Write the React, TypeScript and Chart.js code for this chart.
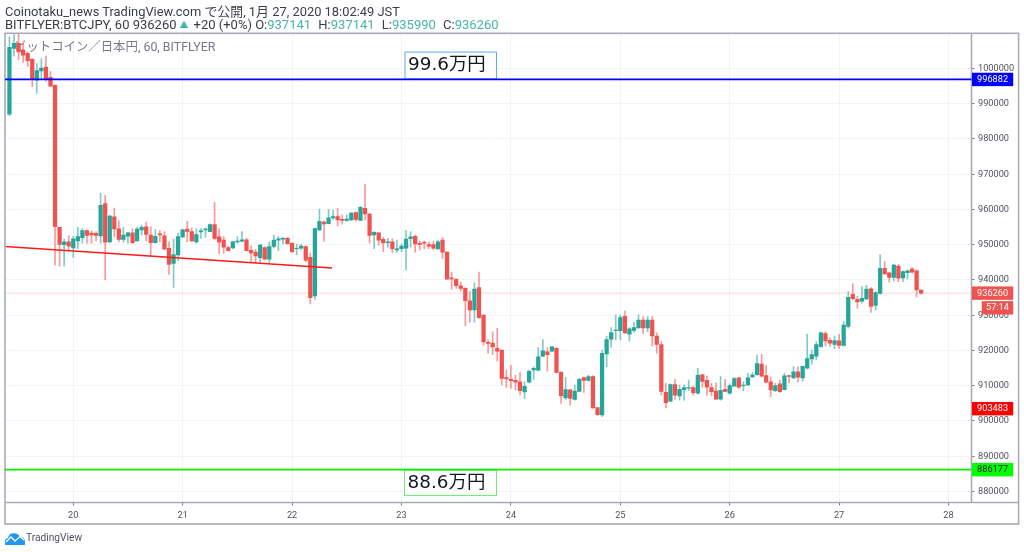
import React, { useEffect, useRef } from "react";
import { Chart, registerables } from "chart.js";

Chart.register(...registerables);

const opens = [
987000,1005700,1007100,1005200,1004300,1002600,996700,999300,1000400,997500,
995200,954900,950000,950800,949100,951100,952000,954000,953300,953200,
952500,961700,950800,957900,954500,951500,952400,953400,951100,954200,
955100,952700,950600,953100,952500,949000,944700,947100,952200,954400,
953700,950800,953600,954200,953700,955700,952200,951300,949200,949100,
950800,951000,951400,948400,947900,946300,949200,945900,949500,951300,
951600,951800,950400,948900,949000,949500,946400,935500,954200,956400,
956000,957600,958000,957200,956900,957000,959100,956900,960300,958700,
952800,953400,951500,950600,950800,948500,948900,949000,951700,952400,
950400,950700,950000,950000,948800,951300,947900,940600,940200,938300,
937600,934100,931500,937800,930000,922300,922100,920600,920100,912300,
911800,911500,911100,908200,911000,914500,914400,918400,919600,919800,
920600,913800,906500,908800,906100,908400,912300,911500,912600,903800,
901700,919000,923200,925600,925600,929700,924600,925700,926400,928600,
926400,928600,924100,921700,908100,905600,910300,907100,908900,909300,
909500,907900,913100,911500,909500,908500,906200,909000,907900,909900,
912200,910000,910200,912500,913100,916100,912900,911100,908600,910500,
908900,912900,912200,913900,912200,915000,917600,918400,921100,924800,
922900,921700,922700,921400,926800,935900,934500,934000,934600,937500,
932800,936200,943300,942000,940700,943900,940600,942100,943100,942600,
937141];

const highs = [
1009000,1009600,1009800,1007100,1004700,1002800,1001400,1002800,1003500,999200,
995300,954900,951600,952500,952400,954900,954600,954200,953900,953700,
964600,964000,958400,960400,956800,954900,953500,954600,954900,955600,
956400,955100,954300,954000,953700,950800,951500,953200,954400,956600,
954800,954600,954600,954800,955900,962000,954600,952300,949600,951000,
952300,953700,951800,949700,948700,950100,949400,950800,952700,952400,
952100,952100,950600,950200,950100,949700,947700,954800,960100,956800,
960000,959800,960300,958500,958400,959100,959300,960800,967200,958900,
953700,953500,952100,951800,951700,951300,950200,954000,953700,952700,
951000,951000,950800,951000,951300,952100,948000,942200,940400,939500,
937800,936700,939200,942200,930100,923000,925300,926300,920100,914400,
915800,913000,913700,911100,914400,915400,920800,923100,920800,921200,
920800,914000,912400,908900,910200,912100,912500,913000,912900,903800,
920100,924100,926500,930000,930000,931200,926500,928000,930100,929600,
929600,929600,925000,922500,910700,910500,911800,910200,910200,911600,
909900,914900,913200,912700,910700,910800,912600,911800,910500,912400,
912400,911100,913500,913700,918700,918900,915700,912500,910700,911600,
913500,913000,915400,915400,915600,924600,920100,922500,925200,925300,
923600,924100,924600,928200,936700,939000,935400,938100,938500,937800,
936700,947100,945200,942100,944500,944400,942600,942800,943600,942800,
937141];

const lows = [
986600,1003500,1002400,1001700,1000500,994800,992900,997200,996400,995000,
944200,944000,943900,948300,946400,948900,950400,950400,950400,951100,
950400,940000,950600,952300,950800,950700,950400,950400,951000,952700,
951100,946800,950400,950800,948700,941600,937900,945500,952100,950800,
951000,950400,951800,952100,953700,951500,947400,947500,948200,948900,
950400,950800,948200,944900,944900,944900,945600,944900,949100,948300,
950200,950100,947800,947100,948500,945200,933200,934500,954000,951000,
955900,957200,955300,955800,956600,956800,956600,956800,957000,950400,
948900,949900,948000,949200,947800,947800,948000,942800,949400,947900,
948500,948900,948900,948500,948700,946100,940200,937400,937600,936900,
927000,928000,928000,929100,921500,919200,918900,917000,910200,909500,
909200,908800,907400,906300,910800,911800,914200,918200,914100,919600,
913700,905000,906100,904500,905900,908200,908100,911300,903600,901600,
901200,915400,920900,923000,923000,924800,922600,925200,926300,924800,
925300,921300,919200,907300,903700,905500,906100,905900,905900,908600,
907300,907600,909500,907300,907100,906100,905900,908200,907600,909900,
909200,908500,910000,912400,912900,912500,910800,906900,908300,908100,
908800,910800,912100,911100,911300,914800,916100,917300,920900,921200,
921100,920500,920600,921200,926300,934300,932000,933400,934400,930800,
931500,936000,941600,939400,939700,939500,939500,940300,941900,935200,
935990];

const closes = [
1006000,1007100,1004700,1003800,1002200,996900,999400,1000100,996900,995000,
955100,950100,950800,949600,951700,952300,954000,952600,952800,952600,
961200,950700,958100,954500,951500,952700,953400,950600,954400,954900,
952900,950600,952400,952800,948700,944400,947200,952300,954200,953800,
951100,952900,953900,954400,955700,951800,950700,949300,948300,950800,
951000,951400,948300,947700,946800,949900,945900,949500,951300,951700,
951800,950300,948000,949000,949600,945600,935000,954600,956600,955900,
957600,958000,957000,956900,957300,959000,957200,960600,958700,952600,
953500,951300,950500,950800,948900,948800,949600,951600,952200,950200,
950100,950400,949600,949000,950800,947900,940200,940300,938400,937600,
934100,931500,937400,929300,922400,922000,921000,919800,912100,911900,
911400,911000,908600,909800,914100,914900,918200,919900,918800,921000,
913800,907100,908900,906400,908500,911800,911500,912600,903700,901800,
919200,923100,925100,925800,929300,925000,926100,926500,928600,926400,
928600,924100,921700,908400,905200,910300,907300,909000,909500,909500,
908000,913000,911200,909600,908300,906200,908700,908400,910000,912000,
909600,910200,912200,913000,916300,912700,911000,908800,910000,908300,
912800,912600,913900,912400,915500,917700,918800,921700,925000,922700,
922100,922800,921400,927200,935100,934700,933800,934800,937400,932500,
936400,943300,941700,940700,944200,940500,942400,942600,942200,937200,
936260];

const firstBarDay = 19.4167;
const hoursPerDay = 24;
const xDomain = [19.376, 28.21];
const yDomain = [876865, 1009915];
const xTicks = [20, 21, 22, 23, 24, 25, 26, 27, 28];
const yTicks = [880000, 890000, 900000, 910000, 920000, 930000, 940000, 950000, 960000, 970000, 980000, 990000, 1000000];

const resistanceLevel = 996882;
const supportLevel = 886177;
const lastPrice = 936260;
const lowTagPrice = 903483;
const countdown = "57:14";
const trendDays = [19.376, 22.365];
const trendPrices = [949474, 943374];

const headerLine1 = "Coinotaku_news TradingView.com で公開, 1月 27, 2020 18:02:49 JST";
const paneTitle = "ビットコイン／日本円, 60, BITFLYER";
const resistanceNote = "99.6万円";
const supportNote = "88.6万円";

const UP = "#26a69a";
const DOWN = "#ef5350";
const UP_WICK = "rgba(38,166,154,0.58)";
const DOWN_WICK = "rgba(239,83,80,0.58)";
const FRAME = "#a9acb5";
const GRID = "#f0f3f9";
const TICK_TEXT = "#50535e";
const FONT = 'Roboto, "Liberation Sans", sans-serif';
const MIXED = 'Roboto, "Noto Sans CJK JP", sans-serif';
const NOTE_FONT = '"DejaVu Sans", "Noto Sans CJK JP", sans-serif';

const dayOf = (i: number) => firstBarDay + i / hoursPerDay;

const overlays = {
  id: "overlays",
  beforeDatasetsDraw(chart: any) {
    const { ctx, chartArea: a } = chart;
    ctx.save();
    ctx.fillStyle = "#787b86";
    ctx.font = `12.4px ${MIXED}`;
    ctx.textAlign = "left";
    ctx.textBaseline = "middle";
    ctx.fillText(paneTitle, a.left + 9, 47.5);
    ctx.restore();
  },
  afterDraw(chart: any) {
    const { ctx, chartArea: a, scales } = chart;
    const xs = scales.x;
    const ys = scales.y;
    ctx.save();

    // frame
    ctx.strokeStyle = FRAME;
    ctx.lineWidth = 1.6;
    ctx.strokeRect(5, 33.3, 1013.6, 490.7);
    ctx.beginPath();
    ctx.moveTo(a.right, 33.3);
    ctx.lineTo(a.right, a.bottom);
    ctx.moveTo(5, a.bottom);
    ctx.lineTo(1018.6, a.bottom);
    ctx.stroke();

    // note boxes
    const note = (text: string, d0: number, d1: number, p0: number, p1: number, border: string) => {
      const x0 = xs.getPixelForValue(d0);
      const x1 = xs.getPixelForValue(d1);
      const y0 = ys.getPixelForValue(p0);
      const y1 = ys.getPixelForValue(p1);
      ctx.fillStyle = "rgba(255,255,255,0.9)";
      ctx.fillRect(x0, y0, x1 - x0, y1 - y0);
      ctx.strokeStyle = border;
      ctx.lineWidth = 1;
      ctx.strokeRect(x0, y0, x1 - x0, y1 - y0);
      ctx.fillStyle = "#131722";
      ctx.font = `18.4px ${NOTE_FONT}`;
      ctx.textAlign = "left";
      ctx.textBaseline = "middle";
      ctx.fillText(text, x0 + 3, (y0 + y1) / 2);
    };
    note(resistanceNote, 23.032, 23.868, 1004653, 996993, "#5aa9f0");
    note(supportNote, 23.028, 23.868, 886066, 878832, "#6fe86f");

    // the two levels go over the boxes' edges
    ctx.lineWidth = 1.8;
    ctx.strokeStyle = "#0000ff";
    ctx.beginPath();
    ctx.moveTo(a.left, ys.getPixelForValue(resistanceLevel));
    ctx.lineTo(a.right, ys.getPixelForValue(resistanceLevel));
    ctx.stroke();
    ctx.strokeStyle = "#00f000";
    ctx.beginPath();
    ctx.moveTo(a.left, ys.getPixelForValue(supportLevel));
    ctx.lineTo(a.right, ys.getPixelForValue(supportLevel));
    ctx.stroke();

    // price tags
    const tag = (text: string, cy: number, bg: string, fg: string, left = a.right + 0.5) => {
      ctx.fillStyle = bg;
      ctx.fillRect(left, cy - 6.7, 1013.2 - left, 13.4);
      ctx.fillStyle = fg;
      ctx.font = `9.2px ${FONT}`;
      ctx.textAlign = "center";
      ctx.textBaseline = "middle";
      ctx.fillText(text, (left + 1013.2) / 2, cy + 0.3);
    };
    tag(String(resistanceLevel), ys.getPixelForValue(resistanceLevel), "#0000ff", "#ffffff");
    tag(String(supportLevel), ys.getPixelForValue(supportLevel), "#00ff00", "#131722");
    tag(String(lowTagPrice), ys.getPixelForValue(lowTagPrice), "#ff0000", "#ffffff");
    tag(String(lastPrice), ys.getPixelForValue(lastPrice), DOWN, "#ffffff");
    tag(countdown, ys.getPixelForValue(lastPrice) + 14.7, DOWN, "#ffffff", a.right + 10.3);
    ctx.restore();
  },
};

export default function App() {
  const ref = useRef<HTMLCanvasElement>(null);

  useEffect(() => {
    document.body.style.margin = "0";
    document.body.style.background = "#ffffff";
    const n = opens.length;
    const idx = Array.from({ length: n }, (_, i) => i);
    const isUp = (i: number) => closes[i] >= opens[i];
    const chart = new Chart(ref.current as HTMLCanvasElement, {
      type: "bar",
      data: {
        datasets: [
          {
            type: "line",
            label: "last",
            data: [
              { x: xDomain[0], y: lastPrice },
              { x: xDomain[1], y: lastPrice },
            ],
            borderColor: "rgba(239,83,80,0.22)",
            borderWidth: 1,
            pointRadius: 0,
            order: 4,
          },
          {
            type: "bar",
            label: "wicks",
            data: idx.map((i) => ({ x: dayOf(i), y: [lows[i], highs[i]] })),
            backgroundColor: idx.map((i) => (isUp(i) ? UP_WICK : DOWN_WICK)),
            barThickness: 1,
            grouped: false,
            order: 3,
          },
          {
            type: "bar",
            label: "bodies",
            data: idx.map((i) => ({ x: dayOf(i), y: [opens[i], closes[i]] })),
            backgroundColor: idx.map((i) => (isUp(i) ? UP : DOWN)),
            barThickness: 3.6,
            grouped: false,
            order: 2,
          },
          {
            type: "line",
            label: "trend",
            data: trendDays.map((d, i) => ({ x: d, y: trendPrices[i] })),
            borderColor: "#ff1a1a",
            borderWidth: 1.4,
            pointRadius: 0,
            order: 1,
          },
        ],
      } as any,
      options: {
        responsive: false,
        animation: false,
        events: [],
        layout: { padding: { left: 5, top: 33.5, right: 5.5, bottom: 28 } },
        plugins: { legend: { display: false }, title: { display: false }, tooltip: { enabled: false } },
        scales: {
          x: {
            type: "linear",
            min: xDomain[0],
            max: xDomain[1],
            offset: false,
            afterBuildTicks: (s: any) => {
              s.ticks = xTicks.map((value) => ({ value }));
            },
            afterFit: (s: any) => {
              s.height = 21.5;
            },
            grid: { offset: false, color: GRID, lineWidth: 1, tickColor: "#787b86", tickLength: 3 },
            border: { display: false },
            ticks: {
              color: TICK_TEXT,
              font: { family: FONT, size: 9.2 },
              padding: 4.5,
              maxRotation: 0,
              autoSkip: false,
              callback: (v: any) => String(v),
            },
          },
          y: {
            type: "linear",
            position: "right",
            min: yDomain[0],
            max: yDomain[1],
            afterBuildTicks: (s: any) => {
              s.ticks = yTicks.map((value) => ({ value }));
            },
            afterFit: (s: any) => {
              s.width = 47;
            },
            grid: { color: GRID, lineWidth: 1, tickColor: "#787b86", tickLength: 3 },
            border: { display: false },
            ticks: {
              color: TICK_TEXT,
              font: { family: FONT, size: 9.2 },
              padding: 3.5,
              autoSkip: false,
              callback: (v: any) => String(v),
            },
          },
        },
      } as any,
      plugins: [overlays],
    });
    return () => chart.destroy();
  }, []);

  const line: React.CSSProperties = {
    position: "absolute",
    left: 5,
    whiteSpace: "nowrap",
    fontFamily: MIXED,
    fontSize: 13,
    lineHeight: "13px",
    color: "#3a3d47",
  };
  const teal: React.CSSProperties = { color: "#45b5aa" };
  const gap: React.CSSProperties = { marginLeft: 4 };

  return (
    <div style={{ position: "relative", width: 1024, height: 552, overflow: "hidden", background: "#fff" }}>
      <canvas ref={ref} width={1024} height={552} style={{ display: "block", position: "absolute", left: 0, top: 0 }} />
      <div style={{ ...line, top: 5, fontSize: 12.9 }}>{headerLine1}</div>
      <div style={{ ...line, top: 18 }}>
        BITFLYER:BTCJPY, 60 936260
        <span style={{ ...teal, fontSize: 9, margin: "0 5px 0 3px", position: "relative", top: -1 }}>▲</span>
        +20 (+0%) O:<span style={teal}>937141</span> <span style={gap}>H:</span>
        <span style={teal}>937141</span> <span style={gap}>L:</span>
        <span style={teal}>935990</span> <span style={gap}>C:</span>
        <span style={teal}>936260</span>
      </div>
      <svg width="20" height="12" viewBox="0 0 20 12" style={{ position: "absolute", left: 4.5, top: 532.5 }}>
        <path d="M0 12 L0 8.5 Q0 5.5 3 5 Q4 0 9 0.3 Q13 0.3 14.5 3.5 Q19.5 4 20 8.5 L20 12 Z" fill="#2196f3" />
        <path d="M1 9 L6 4 L10 8 L15 3.5 L19 7" fill="none" stroke="#ffffff" strokeWidth="1.3" />
      </svg>
      <div
        style={{
          position: "absolute",
          left: 26,
          top: 532,
          fontFamily: FONT,
          fontSize: 10.2,
          lineHeight: "12px",
          color: "#50535e",
        }}
      >
        TradingView
      </div>
    </div>
  );
}
